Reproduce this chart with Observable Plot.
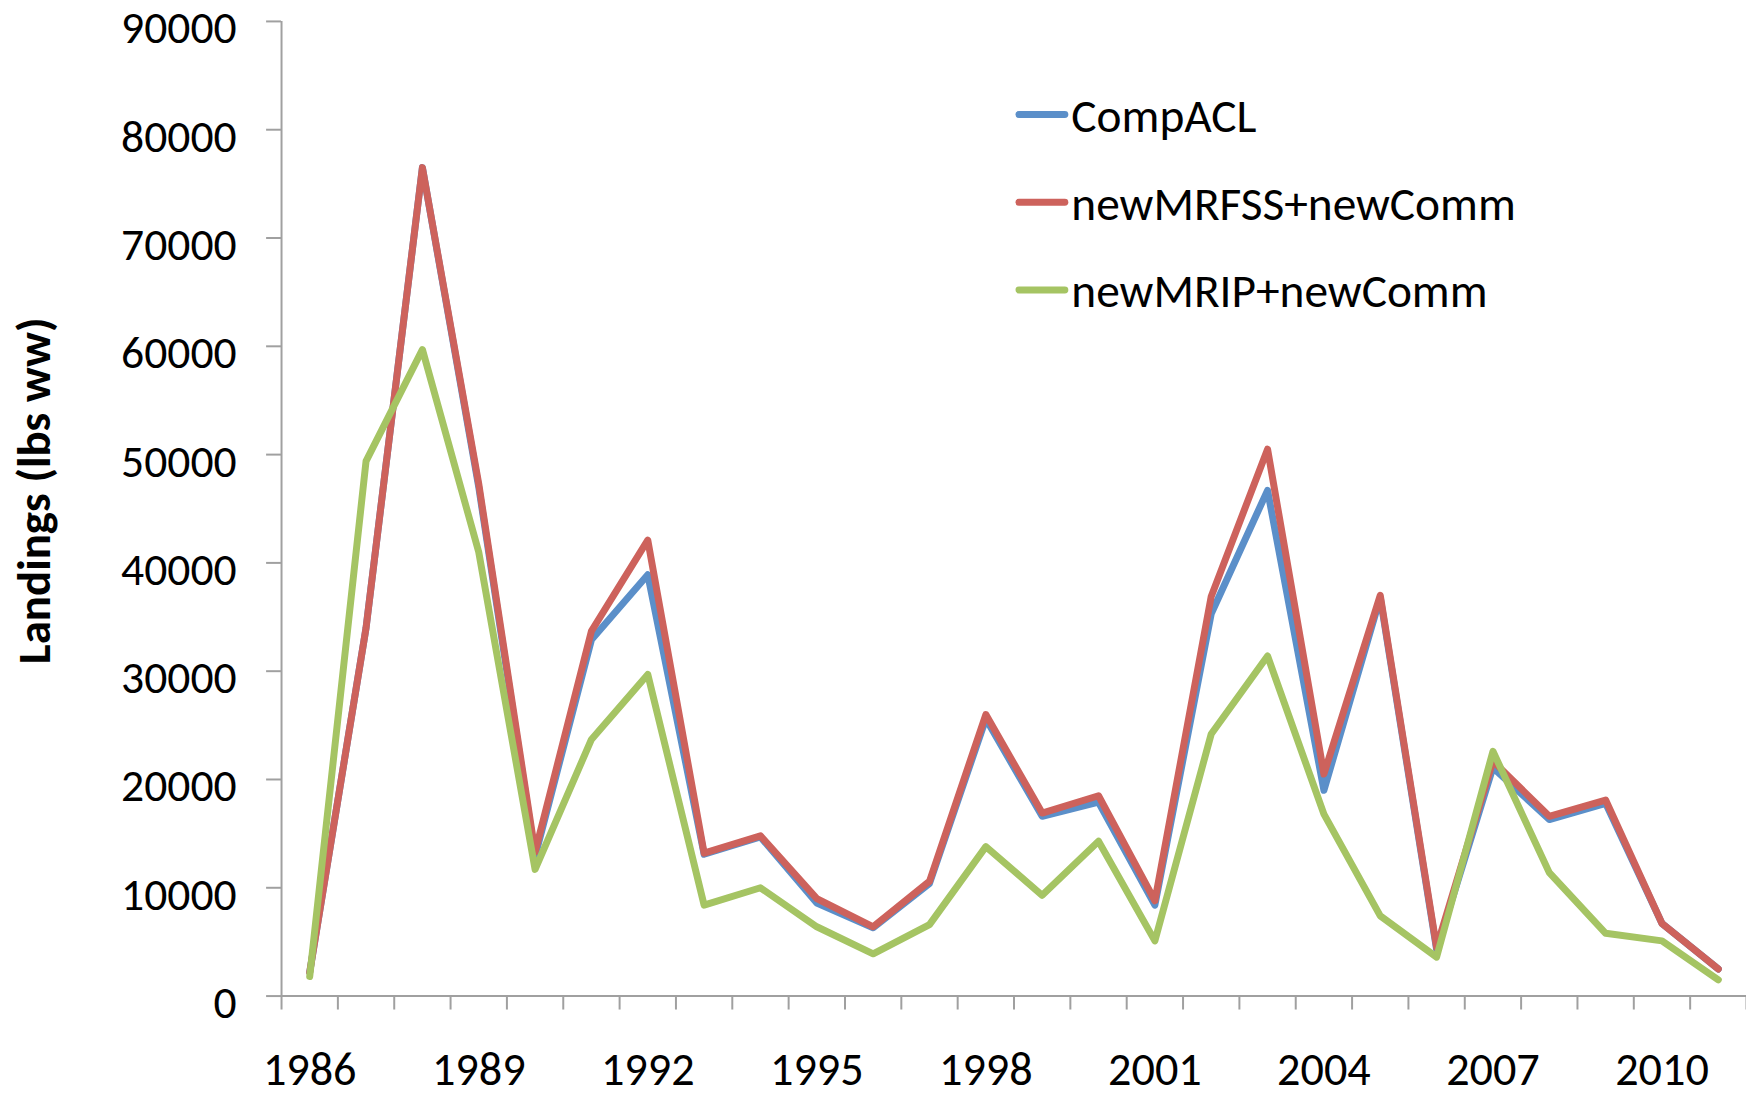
<!DOCTYPE html>
<html>
<head>
<meta charset="utf-8">
<script src="https://cdn.jsdelivr.net/npm/d3@7"></script>
<script src="https://cdn.jsdelivr.net/npm/@observablehq/plot@0.6"></script>
<style>
  html, body { margin: 0; padding: 0; background: #fff; overflow: hidden; }
  #chart { position: relative; width: 1746px; height: 1098px; overflow: hidden; }
</style>
</head>
<body>
<div id="chart"></div>
<script>
// ---- data ----
const years = [1986, 1987, 1988, 1989, 1990, 1991, 1992, 1993, 1994, 1995, 1996, 1997, 1998,
               1999, 2000, 2001, 2002, 2003, 2004, 2005, 2006, 2007, 2008, 2009, 2010, 2011];
const compACL = [2200, 34000, 76500, 47000, 12900, 32900, 38900, 13100, 14700, 8600, 6300, 10400, 25600,
                 16600, 17900, 8400, 35300, 46700, 19000, 36800, 4300, 21100, 16300, 17800, 6700, 2500];
const newMRFSSnewComm = [2200, 34000, 76500, 47300, 13300, 33700, 42100, 13200, 14800, 9000, 6400, 10600, 26000,
                 16900, 18500, 8800, 36900, 50500, 20500, 37000, 4500, 21700, 16600, 18100, 6700, 2500];
const newMRIPnewComm = [1800, 49400, 59700, 41000, 11700, 23700, 29700, 8400, 10000, 6400, 3900, 6600, 13800,
                 9300, 14300, 5100, 24200, 31400, 16800, 7400, 3600, 22600, 11400, 5800, 5100, 1500];
const seriesNames = ["CompACL", "newMRFSS+newComm", "newMRIP+newComm"];
const seriesColors = ["#5B8FC9", "#CD625C", "#A5C463"];
const yTickValues = [0, 10000, 20000, 30000, 40000, 50000, 60000, 70000, 80000, 90000];
const xTickLabelYears = [1986, 1989, 1992, 1995, 1998, 2001, 2004, 2007, 2010];
const yAxisTitle = "Landings (lbs ww)";

// ---- layout / style ----
const FONT = "Calibri, Carlito, Lato, sans-serif";
const W = 1752, H = 1098, mL = 282, mR = 0, mT = 21, mB = 99;
const frameW = W - mL - mR, frameH = H - mT - mB;
const axisGray = "#a0a0a0";

const ctx = document.createElement("canvas").getContext("2d");
function fitSize(text, weight, target) {
  ctx.font = `${weight} 100px ${FONT}`;
  return 100 * target / ctx.measureText(text).width;
}
function capRatio(weight) {
  ctx.font = `${weight} 100px ${FONT}`;
  return ctx.measureText("H").actualBoundingBoxAscent / 100;
}
const yTickSize = fitSize("90000", "normal", 116);
const xTickSize = fitSize("1986", "normal", 94);
const legendSize = fitSize("newMRFSS+newComm", "normal", 446);
const titleSize = fitSize(yAxisTitle, "bold", 348);

const seriesValues = [compACL, newMRFSSnewComm, newMRIPnewComm];
const boundaries = years.map(y => y - 0.5).concat([years[years.length - 1] + 0.5]);

const lineMarks = seriesValues.map((vals, s) =>
  Plot.line(years.map((year, i) => ({year, value: vals[i]})), {
    x: "year", y: "value", stroke: seriesColors[s], strokeWidth: 7,
    strokeLinejoin: "round", strokeLinecap: "round"
  })
);

const chart = Plot.plot({
  width: W, height: H,
  marginLeft: mL, marginRight: mR, marginTop: mT, marginBottom: mB,
  x: {type: "linear", domain: [boundaries[0], boundaries[boundaries.length - 1]], axis: null},
  y: {type: "linear", domain: [yTickValues[0], yTickValues[yTickValues.length - 1]], axis: null},
  style: {background: "white", fontFamily: FONT, color: "black", overflow: "visible"},
  marks: [
    // y tick marks (0 tick doubles as the start of the x axis line)
    Plot.ruleY(yTickValues, {y: d => d, stroke: axisGray, strokeWidth: 2, insetLeft: -15, insetRight: frameW}),
    // x axis line
    Plot.ruleY([yTickValues[0]], {y: d => d, stroke: axisGray, strokeWidth: 2}),
    // y axis line
    Plot.ruleX([boundaries[0]], {x: d => d, stroke: axisGray, strokeWidth: 2}),
    // x tick marks between categories
    Plot.ruleX(boundaries, {x: d => d, stroke: axisGray, strokeWidth: 2, insetTop: frameH, insetBottom: -14}),
    ...lineMarks,
    Plot.text(yTickValues, {y: d => d, text: d => String(d), frameAnchor: "left", textAnchor: "end",
      lineAnchor: "bottom", dx: -45, dy: 22, fontSize: yTickSize, fill: "black"}),
    Plot.text(xTickLabelYears, {x: d => d, text: d => String(d), frameAnchor: "bottom", textAnchor: "middle",
      lineAnchor: "bottom", dy: 89, fontSize: xTickSize, fill: "black"}),
    Plot.text([yAxisTitle], {text: d => d, frameAnchor: "left", textAnchor: "middle", rotate: -90, lineAnchor: "bottom",
      dx: -232, dy: -18, fontSize: titleSize, fontWeight: "bold", fill: "black"})
  ]
});

document.getElementById("chart").appendChild(chart);

// ---- legend (inside the plot area, top right) ----
const svg = d3.select(chart);
const legend = svg.append("g").attr("font-family", FONT).attr("font-size", legendSize)
  .attr("text-anchor", "start");
const capH = capRatio("normal") * legendSize;
const legendLineX1 = 1022.5, legendLineX2 = 1068.5, legendTextX = 1075, legendY0 = 115, legendGap = 88;
seriesNames.forEach((name, i) => {
  const cy = legendY0 + i * legendGap;
  legend.append("line")
    .attr("x1", legendLineX1).attr("x2", legendLineX2)
    .attr("y1", cy).attr("y2", cy)
    .attr("stroke", seriesColors[i]).attr("stroke-width", 7).attr("stroke-linecap", "round");
  legend.append("text")
    .attr("x", legendTextX).attr("y", cy + 2 + capH / 2)
    .attr("text-anchor", "start")
    .attr("fill", "black")
    .text(name);
});
</script>
</body>
</html>
